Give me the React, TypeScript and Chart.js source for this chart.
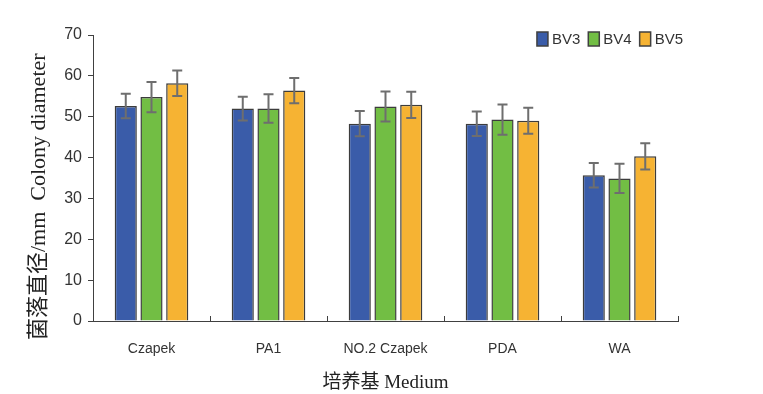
import React, { useEffect, useRef } from "react";
import { Chart, registerables } from "chart.js";

Chart.register(...registerables);

const categories = ["Czapek", "PA1", "NO.2 Czapek", "PDA", "WA"];
const seriesNames = ["BV3", "BV4", "BV5"];
const bv3 = [52.6, 52.0, 48.3, 48.3, 35.7];
const bv4 = [54.8, 52.0, 52.5, 49.3, 34.9];
const bv5 = [58.2, 56.4, 52.9, 49.0, 40.3];
const bv3Err = [3.0, 2.9, 3.1, 3.0, 3.0];
const bv4Err = [3.7, 3.5, 3.7, 3.7, 3.6];
const bv5Err = [3.1, 3.1, 3.2, 3.2, 3.2];
const yTicks = [0, 10, 20, 30, 40, 50, 60, 70];
const yTitle = "菌落直径/mm  Colony diameter";
const xTitle = "培养基 Medium";

const colors = ["#3a5ca9", "#72be44", "#f6b333"];
const errs = [bv3Err, bv4Err, bv5Err];
const sansFont = "'Liberation Sans', sans-serif";
const serifFont = "'Liberation Serif', 'Noto Sans CJK SC', serif";

const errorBarPlugin = {
  id: "errorBars",
  afterDatasetsDraw(chart: any) {
    const ctx = chart.ctx;
    const y = chart.scales.y;
    ctx.save();
    ctx.strokeStyle = "#6e6e6e";
    ctx.lineWidth = 2;
    chart.data.datasets.forEach((ds: any, di: number) => {
      const meta = chart.getDatasetMeta(di);
      meta.data.forEach((el: any, i: number) => {
        const v = ds.data[i];
        const e = errs[di][i];
        const top = y.getPixelForValue(v + e);
        const bot = y.getPixelForValue(v - e);
        const x = el.x;
        ctx.beginPath();
        ctx.moveTo(x, top);
        ctx.lineTo(x, bot);
        ctx.moveTo(x - 5, top);
        ctx.lineTo(x + 5, top);
        ctx.moveTo(x - 5, bot);
        ctx.lineTo(x + 5, bot);
        ctx.stroke();
      });
    });
    ctx.restore();
  },
};

const xTickPlugin = {
  id: "xInnerTicks",
  afterDraw(chart: any) {
    const ctx = chart.ctx;
    const x = chart.scales.x;
    const area = chart.chartArea;
    const n = categories.length;
    const w = (area.right - area.left) / n;
    ctx.save();
    ctx.strokeStyle = "#404040";
    ctx.lineWidth = 1;
    for (let i = 1; i <= n; i++) {
      const px = Math.round(x.left + w * i) + 0.5;
      ctx.beginPath();
      ctx.moveTo(px, area.bottom);
      ctx.lineTo(px, area.bottom - 5);
      ctx.stroke();
    }
    ctx.restore();
  },
};

const yTitlePlugin = {
  id: "yTitle",
  afterDraw(chart: any) {
    const ctx = chart.ctx;
    const area = chart.chartArea;
    ctx.save();
    ctx.translate(39, area.bottom + 19);
    ctx.rotate(-Math.PI / 2);
    ctx.font = "22px " + serifFont;
    ctx.fillStyle = "#222";
    ctx.textAlign = "left";
    ctx.textBaseline = "middle";
    ctx.fillText(yTitle, 0, 0);
    ctx.restore();
  },
};

const legendPlugin = {
  id: "cornerLegend",
  afterDraw(chart: any) {
    const ctx = chart.ctx;
    const area = chart.chartArea;
    ctx.save();
    ctx.font = "15px " + sansFont;
    ctx.textBaseline = "middle";
    const boxW = 11;
    const boxH = 14;
    const gap = 4;
    const itemGap = 8;
    const items = chart.data.datasets.map((ds: any) => ({
      label: ds.label,
      color: ds.backgroundColor,
      w: boxW + gap + ctx.measureText(ds.label).width,
    }));
    const total = items.reduce((a: number, it: any) => a + it.w, 0) + itemGap * (items.length - 1);
    let x = area.right + 5 - total;
    const cy = area.top + 4;
    items.forEach((it: any) => {
      ctx.fillStyle = it.color;
      ctx.fillRect(x, cy - boxH / 2, boxW, boxH);
      ctx.strokeStyle = "#404040";
      ctx.lineWidth = 1.5;
      ctx.strokeRect(x, cy - boxH / 2, boxW, boxH);
      ctx.fillStyle = "#333";
      ctx.fillText(it.label, x + boxW + gap, cy + 1);
      x += it.w + itemGap;
    });
    ctx.restore();
  },
};

export default function App() {
  const ref = useRef<HTMLCanvasElement>(null);
  useEffect(() => {
    document.body.style.margin = "0";
    const datasets = [bv3, bv4, bv5].map((d, i) => ({
      label: seriesNames[i],
      data: d,
      backgroundColor: colors[i],
      borderColor: "#3c3c3c",
      borderWidth: 1.5,
      categoryPercentage: 0.66,
      barPercentage: 0.86,
    }));
    const chart = new Chart(ref.current!, {
      type: "bar",
      data: { labels: categories, datasets },
      plugins: [errorBarPlugin, xTickPlugin, legendPlugin, yTitlePlugin],
      options: {
        responsive: false,
        animation: false,
        layout: { padding: { left: 0, right: 85, top: 35, bottom: 0 } },
        plugins: {
          tooltip: { enabled: false },
          legend: { display: false },
        },
        scales: {
          x: {
            grid: { display: false, drawTicks: false },
            border: { display: true, color: "#404040", width: 1 },
            ticks: {
              padding: 20,
              color: "#333",
              font: { family: sansFont, size: 14 },
            },
            title: {
              display: true,
              text: xTitle,
              color: "#222",
              padding: { top: 6, bottom: 0 },
              font: { family: serifFont, size: 19 },
            },
            afterFit(s: any) {
              s.height = 73;
            },
          },
          y: {
            min: 0,
            max: 70,
            afterBuildTicks(s: any) {
              s.ticks = yTicks.map((v) => ({ value: v }));
            },
            grid: { display: true, drawOnChartArea: false, drawTicks: true, tickLength: 5, color: "#404040" },
            border: { display: true, color: "#404040", width: 1 },
            ticks: {
              padding: 6,
              color: "#333",
              font: { family: sansFont, size: 16 },
            },
            title: { display: false },
            afterFit(s: any) {
              s.width = 93;
            },
          },
        },
      },
    } as any);
    return () => chart.destroy();
  }, []);
  return <canvas ref={ref} width={763} height={394} style={{ display: "block" }} />;
}
